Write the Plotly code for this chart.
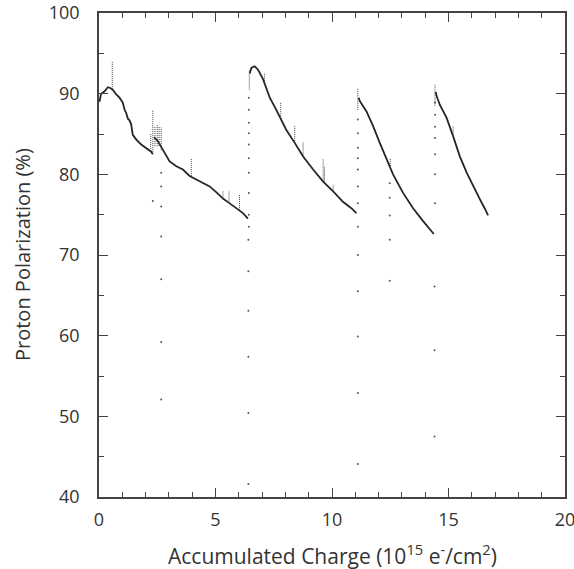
import plotly.graph_objects as go

# ---- main curve segments (accumulated charge, polarization %) ----
seg1_x = [0.02, 0.05, 0.09, 0.24, 0.38, 0.48, 0.59, 0.74, 0.88, 1.02, 1.10, 1.17, 1.24, 1.31, 1.38, 1.45, 1.60, 1.81, 2.03, 2.24, 2.31]
seg1_y = [89.0, 89.6, 90.0, 90.3, 90.8, 90.7, 90.5, 89.9, 89.5, 88.9, 88.0, 87.6, 86.9, 86.7, 86.2, 84.9, 84.3, 83.7, 83.2, 82.8, 82.5]

seg2_x = [2.36, 2.45, 2.53, 2.67, 2.81, 3.03, 3.32, 3.60, 3.89, 4.20, 4.46, 4.75, 5.03, 5.32, 5.61, 5.89, 6.18, 6.39]
seg2_y = [84.6, 84.3, 84.1, 83.4, 82.7, 81.6, 81.0, 80.6, 79.8, 79.3, 78.9, 78.5, 77.8, 77.0, 76.4, 75.8, 75.2, 74.5]

seg3_x = [6.47, 6.54, 6.68, 6.82, 7.04, 7.33, 7.61, 7.83, 8.04, 8.40, 8.76, 9.19, 9.62, 10.05, 10.47, 10.83, 11.05]
seg3_y = [92.5, 93.2, 93.4, 93.0, 91.8, 89.5, 88.0, 86.8, 85.5, 83.9, 82.2, 80.6, 79.1, 77.9, 76.6, 75.8, 75.2]

seg4_x = [11.15, 11.19, 11.48, 11.76, 12.05, 12.34, 12.62, 13.05, 13.48, 13.91, 14.27, 14.37]
seg4_y = [89.5, 89.1, 87.8, 86.0, 83.9, 81.8, 80.0, 77.7, 75.8, 74.2, 72.9, 72.6]

seg5_x = [14.45, 14.49, 14.63, 14.92, 15.20, 15.49, 15.78, 16.06, 16.35, 16.55, 16.70]
seg5_y = [90.2, 89.7, 88.6, 87.0, 84.7, 82.2, 80.2, 78.5, 76.9, 75.8, 74.9]

# ---- short vertical bursts of readings (x, low, high) ----
spike_x  = [0.57, 2.22, 2.31, 2.40, 2.50, 2.58, 2.67, 3.96, 5.32, 5.58, 6.03, 6.45, 7.10, 7.80, 8.40, 8.76, 9.62, 9.68, 10.05, 11.11, 12.50, 14.42, 15.20]
spike_lo = [90.6, 82.9, 82.5, 83.5, 83.5, 83.5, 83.0, 79.8, 77.0, 76.5, 75.6, 90.5, 91.6, 87.0, 83.9, 82.2, 79.1, 79.0, 77.9, 88.0, 80.8, 88.5, 84.7]
spike_hi = [94.0, 85.0, 88.0, 86.0, 86.2, 86.0, 85.8, 82.0, 78.0, 78.0, 77.5, 93.0, 92.6, 88.9, 86.0, 84.0, 81.9, 81.0, 78.7, 90.7, 82.0, 91.1, 86.0]

# ---- isolated readings ----
dot_x = [2.31, 2.67, 2.67, 2.67, 2.67, 2.67, 2.67, 2.67,
         6.43, 6.43, 6.43, 6.43, 6.43, 6.43, 6.43, 6.43, 6.43, 6.43, 6.41, 6.41, 6.41, 6.41, 6.41, 6.41,
         11.11, 11.11, 11.11, 11.11, 11.11, 11.11, 11.11, 11.11, 11.11, 11.11, 11.11, 11.11, 11.11,
         12.48, 12.48, 12.48, 12.48, 12.48,
         14.42, 14.42, 14.42, 14.42, 14.42, 14.42, 14.42, 14.40, 14.40, 14.40]
dot_y = [76.7, 80.2, 78.5, 76.0, 72.3, 67.0, 59.2, 52.1,
         89.5, 88.0, 86.4, 85.1, 83.7, 82.0, 80.2, 77.7, 75.0, 73.5, 71.9, 68.0, 63.1, 57.4, 50.4, 41.6,
         86.8, 85.1, 83.3, 82.0, 80.6, 78.5, 76.4, 73.5, 70.0, 65.5, 59.9, 52.9, 44.1,
         78.9, 77.1, 74.9, 71.9, 66.8,
         88.9, 87.4, 85.9, 84.5, 82.5, 80.0, 76.4, 66.1, 58.2, 47.5]

x_ticks = [0, 5, 10, 15, 20]
y_ticks = [40, 50, 60, 70, 80, 90, 100]
x_title = "Accumulated Charge (10<sup>15</sup> e<sup>-</sup>/cm<sup>2</sup>)"
y_title = "Proton Polarization (%)"

INK = "#262626"
FONT = "Open Sans"

fig = go.Figure()

cx, cy = [], []
for xs, ys in [(seg1_x, seg1_y), (seg2_x, seg2_y), (seg3_x, seg3_y), (seg4_x, seg4_y), (seg5_x, seg5_y)]:
    cx += xs + [None]
    cy += ys + [None]
fig.add_trace(go.Scatter(x=cx, y=cy, mode="lines",
                         line=dict(color=INK, width=1.8), hoverinfo="skip", showlegend=False))

sx, sy = [], []
for x, lo, hi in zip(spike_x, spike_lo, spike_hi):
    sx += [x, x, None]
    sy += [lo, hi, None]
fig.add_trace(go.Scatter(x=sx, y=sy, mode="lines",
                         line=dict(color="#444", width=1, dash="1px,1px"), hoverinfo="skip", showlegend=False))

fig.add_trace(go.Scatter(x=dot_x, y=dot_y, mode="markers",
                         marker=dict(color="#555", size=2, line=dict(width=0)), hoverinfo="skip", showlegend=False))

axis_common = dict(
    showgrid=False, zeroline=False, showline=True, linecolor="#444", linewidth=1.5,
    mirror="ticks", ticks="inside", ticklen=9, tickwidth=1.2, tickcolor="#444",
    tickfont=dict(family=FONT, size=18, color="#333"), automargin=False,
    ticklabeloverflow="allow",
)

fig.update_layout(
    width=574, height=569,
    margin=dict(l=99, r=9, t=13, b=72),
    paper_bgcolor="white", plot_bgcolor="white",
    font=dict(family=FONT, color="#333"),
    xaxis=dict(range=[0, 20], tickvals=x_ticks, ticktext=[str(v) for v in x_ticks],
               minor=dict(dtick=1, ticks="inside", ticklen=5, tickcolor="#444", tickwidth=1.2),
               ticklabelstandoff=6, **axis_common),
    yaxis=dict(range=[40, 100], tickvals=y_ticks, ticktext=[str(v) for v in y_ticks],
               minor=dict(dtick=5, ticks="inside", ticklen=5, tickcolor="#444", tickwidth=1.2),
               ticklabelstandoff=14, **axis_common),
    annotations=[
        dict(text=x_title, xref="paper", yref="paper", x=0.5, y=0, xanchor="center", yanchor="middle",
             yshift=-57, showarrow=False, font=dict(family=FONT, size=21, color="#333")),
        dict(text=y_title, xref="paper", yref="paper", x=0, y=0.5, xanchor="center", yanchor="middle",
             xshift=-77, textangle=-90, showarrow=False, font=dict(family=FONT, size=20, color="#333")),
    ],
)

fig.write_html("out.html", config={"displayModeBar": False},
               post_script="document.body.style.margin='0';document.body.style.padding='0';document.body.style.overflow='hidden';")
